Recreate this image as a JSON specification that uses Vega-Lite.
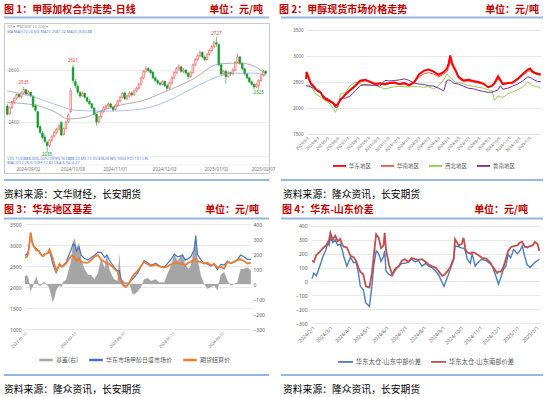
{
"$schema": "https://vega.github.io/schema/vega-lite/v6.json",
"padding": {"left": 3, "top": 0, "right": 0, "bottom": 0},
"background": "white",
"spacing": 0,
"resolve": {"scale": {"color": "independent", "fill": "independent", "stroke": "independent"}, "legend": {"color": "independent", "fill": "independent", "stroke": "independent"}},
"config": {
  "view": {"stroke": null},
  "font": "Noto Sans CJK SC",
  "axis": {"labelFont": "Noto Sans", "labelColor": "#595959", "domain": false, "ticks": false, "gridColor": "#d9d9d9", "gridWidth": 0.6, "labelOverlap": false, "labelFlush": false},
  "legend": {"labelFont": "Noto Sans CJK SC", "labelColor": "#595959", "padding": 0, "layout": {"bottom": {"anchor": "middle"}}}
},
"datasets": {
  "p1": [
{"d":"2024/08/20","o":2462,"h":2470,"l":2425,"c":2430},
{"d":"2024/08/21","o":2432,"h":2460,"l":2428,"c":2455},
{"d":"2024/08/22","o":2455,"h":2482,"l":2450,"c":2478},
{"d":"2024/08/23","o":2476,"h":2495,"l":2470,"c":2490},
{"d":"2024/08/26","o":2492,"h":2512,"l":2485,"c":2505},
{"d":"2024/08/27","o":2506,"h":2510,"l":2490,"c":2498},
{"d":"2024/08/28","o":2497,"h":2518,"l":2492,"c":2512},
{"d":"2024/08/29","o":2512,"h":2535,"l":2505,"c":2525},
{"d":"2024/08/30","o":2524,"h":2528,"l":2502,"c":2508},
{"d":"2024/09/02","o":2508,"h":2522,"l":2500,"c":2515},
{"d":"2024/09/03","o":2514,"h":2516,"l":2495,"c":2502},
{"d":"2024/09/04","o":2500,"h":2503,"l":2455,"c":2460},
{"d":"2024/09/05","o":2462,"h":2470,"l":2438,"c":2445},
{"d":"2024/09/06","o":2440,"h":2444,"l":2375,"c":2380},
{"d":"2024/09/09","o":2382,"h":2390,"l":2352,"c":2360},
{"d":"2024/09/10","o":2358,"h":2365,"l":2335,"c":2340},
{"d":"2024/09/11","o":2342,"h":2350,"l":2318,"c":2325},
{"d":"2024/09/12","o":2322,"h":2328,"l":2285,"c":2310},
{"d":"2024/09/13","o":2310,"h":2335,"l":2302,"c":2330},
{"d":"2024/09/18","o":2330,"h":2350,"l":2322,"c":2345},
{"d":"2024/09/19","o":2346,"h":2365,"l":2340,"c":2360},
{"d":"2024/09/20","o":2360,"h":2378,"l":2352,"c":2372},
{"d":"2024/09/23","o":2373,"h":2392,"l":2366,"c":2385},
{"d":"2024/09/24","o":2398,"h":2404,"l":2345,"c":2350},
{"d":"2024/09/25","o":2352,"h":2380,"l":2348,"c":2375},
{"d":"2024/09/26","o":2376,"h":2405,"l":2370,"c":2400},
{"d":"2024/09/27","o":2402,"h":2432,"l":2396,"c":2428},
{"d":"2024/09/30","o":2440,"h":2530,"l":2436,"c":2520},
{"d":"2024/10/08","o":2610,"h":2621,"l":2550,"c":2560},
{"d":"2024/10/09","o":2556,"h":2565,"l":2530,"c":2540},
{"d":"2024/10/10","o":2538,"h":2545,"l":2508,"c":2515},
{"d":"2024/10/11","o":2514,"h":2520,"l":2492,"c":2500},
{"d":"2024/10/14","o":2500,"h":2518,"l":2496,"c":2510},
{"d":"2024/10/15","o":2510,"h":2514,"l":2490,"c":2495},
{"d":"2024/10/16","o":2494,"h":2498,"l":2475,"c":2480},
{"d":"2024/10/17","o":2480,"h":2488,"l":2465,"c":2470},
{"d":"2024/10/18","o":2470,"h":2474,"l":2450,"c":2455},
{"d":"2024/10/21","o":2454,"h":2458,"l":2425,"c":2430},
{"d":"2024/10/22","o":2430,"h":2434,"l":2385,"c":2400},
{"d":"2024/10/23","o":2400,"h":2425,"l":2395,"c":2420},
{"d":"2024/10/24","o":2420,"h":2445,"l":2414,"c":2440},
{"d":"2024/10/25","o":2440,"h":2460,"l":2435,"c":2455},
{"d":"2024/10/28","o":2455,"h":2468,"l":2448,"c":2462},
{"d":"2024/10/29","o":2462,"h":2476,"l":2455,"c":2470},
{"d":"2024/10/30","o":2470,"h":2472,"l":2452,"c":2458},
{"d":"2024/10/31","o":2458,"h":2462,"l":2440,"c":2448},
{"d":"2024/11/01","o":2448,"h":2470,"l":2444,"c":2465},
{"d":"2024/11/04","o":2465,"h":2486,"l":2460,"c":2480},
{"d":"2024/11/05","o":2480,"h":2500,"l":2475,"c":2495},
{"d":"2024/11/06","o":2495,"h":2516,"l":2490,"c":2510},
{"d":"2024/11/07","o":2512,"h":2518,"l":2485,"c":2490},
{"d":"2024/11/08","o":2490,"h":2506,"l":2484,"c":2500},
{"d":"2024/11/11","o":2500,"h":2518,"l":2495,"c":2512},
{"d":"2024/11/12","o":2512,"h":2516,"l":2498,"c":2505},
{"d":"2024/11/13","o":2505,"h":2525,"l":2500,"c":2520},
{"d":"2024/11/14","o":2520,"h":2536,"l":2514,"c":2530},
{"d":"2024/11/15","o":2530,"h":2552,"l":2525,"c":2545},
{"d":"2024/11/18","o":2546,"h":2576,"l":2540,"c":2570},
{"d":"2024/11/19","o":2570,"h":2600,"l":2564,"c":2595},
{"d":"2024/11/20","o":2595,"h":2615,"l":2588,"c":2605},
{"d":"2024/11/21","o":2606,"h":2612,"l":2592,"c":2598},
{"d":"2024/11/22","o":2598,"h":2604,"l":2584,"c":2590},
{"d":"2024/11/25","o":2592,"h":2596,"l":2565,"c":2570},
{"d":"2024/11/26","o":2570,"h":2575,"l":2555,"c":2560},
{"d":"2024/11/27","o":2560,"h":2565,"l":2544,"c":2550},
{"d":"2024/11/28","o":2550,"h":2556,"l":2538,"c":2545},
{"d":"2024/11/29","o":2545,"h":2562,"l":2540,"c":2555},
{"d":"2024/12/02","o":2556,"h":2560,"l":2535,"c":2540},
{"d":"2024/12/03","o":2540,"h":2546,"l":2518,"c":2530},
{"d":"2024/12/04","o":2530,"h":2556,"l":2526,"c":2550},
{"d":"2024/12/05","o":2550,"h":2575,"l":2545,"c":2570},
{"d":"2024/12/06","o":2570,"h":2596,"l":2565,"c":2590},
{"d":"2024/12/09","o":2590,"h":2612,"l":2585,"c":2605},
{"d":"2024/12/10","o":2605,"h":2622,"l":2598,"c":2612},
{"d":"2024/12/11","o":2612,"h":2616,"l":2590,"c":2595},
{"d":"2024/12/12","o":2595,"h":2608,"l":2588,"c":2600},
{"d":"2024/12/13","o":2600,"h":2604,"l":2582,"c":2588},
{"d":"2024/12/16","o":2588,"h":2592,"l":2565,"c":2575},
{"d":"2024/12/17","o":2575,"h":2596,"l":2570,"c":2590},
{"d":"2024/12/18","o":2590,"h":2625,"l":2586,"c":2620},
{"d":"2024/12/19","o":2620,"h":2646,"l":2615,"c":2640},
{"d":"2024/12/20","o":2640,"h":2660,"l":2634,"c":2655},
{"d":"2024/12/23","o":2655,"h":2675,"l":2650,"c":2668},
{"d":"2024/12/24","o":2668,"h":2672,"l":2644,"c":2650},
{"d":"2024/12/25","o":2650,"h":2656,"l":2634,"c":2640},
{"d":"2024/12/26","o":2640,"h":2665,"l":2636,"c":2660},
{"d":"2024/12/27","o":2660,"h":2680,"l":2655,"c":2675},
{"d":"2024/12/30","o":2675,"h":2696,"l":2670,"c":2690},
{"d":"2024/12/31","o":2690,"h":2712,"l":2684,"c":2705},
{"d":"2025/01/02","o":2705,"h":2727,"l":2690,"c":2700},
{"d":"2025/01/03","o":2698,"h":2702,"l":2615,"c":2620},
{"d":"2025/01/06","o":2620,"h":2626,"l":2578,"c":2585},
{"d":"2025/01/07","o":2585,"h":2602,"l":2580,"c":2595},
{"d":"2025/01/08","o":2595,"h":2600,"l":2548,"c":2575},
{"d":"2025/01/09","o":2575,"h":2596,"l":2570,"c":2590},
{"d":"2025/01/10","o":2590,"h":2594,"l":2578,"c":2585},
{"d":"2025/01/13","o":2585,"h":2606,"l":2580,"c":2600},
{"d":"2025/01/14","o":2600,"h":2636,"l":2595,"c":2630},
{"d":"2025/01/15","o":2630,"h":2665,"l":2625,"c":2650},
{"d":"2025/01/16","o":2650,"h":2654,"l":2620,"c":2625},
{"d":"2025/01/17","o":2625,"h":2630,"l":2600,"c":2605},
{"d":"2025/01/20","o":2605,"h":2610,"l":2580,"c":2585},
{"d":"2025/01/21","o":2585,"h":2590,"l":2565,"c":2570},
{"d":"2025/01/22","o":2570,"h":2575,"l":2550,"c":2555},
{"d":"2025/01/23","o":2555,"h":2560,"l":2540,"c":2545},
{"d":"2025/01/24","o":2545,"h":2550,"l":2528,"c":2535},
{"d":"2025/01/27","o":2535,"h":2552,"l":2530,"c":2545},
{"d":"2025/02/05","o":2540,"h":2565,"l":2525,"c":2560},
{"d":"2025/02/06","o":2560,"h":2585,"l":2555,"c":2580},
{"d":"2025/02/07","o":2580,"h":2600,"l":2575,"c":2595},
{"d":"2025/02/10","o":2595,"h":2598,"l":2580,"c":2588}
  ],
  "p1g": [
{"d":"2024/08/20","v":2475},{"d":"2024/09/05","v":2465},{"d":"2024/09/19","v":2440},{"d":"2024/09/27","v":2412},
{"d":"2024/10/16","v":2420},{"d":"2024/10/23","v":2440},{"d":"2024/11/05","v":2465},{"d":"2024/11/18","v":2481},
{"d":"2024/12/03","v":2520},{"d":"2024/12/18","v":2565},{"d":"2025/01/03","v":2623},{"d":"2025/01/16","v":2627},
{"d":"2025/01/24","v":2615},{"d":"2025/02/10","v":2585}
  ],
  "p1b": [
{"d":"2024/08/20","v":2520},{"d":"2024/09/03","v":2500},{"d":"2024/09/24","v":2460},{"d":"2024/10/09","v":2445},
{"d":"2024/10/29","v":2442},{"d":"2024/11/18","v":2450},{"d":"2024/12/03","v":2480},{"d":"2024/12/18","v":2530},
{"d":"2024/12/31","v":2569},{"d":"2025/01/13","v":2588},{"d":"2025/01/24","v":2588},{"d":"2025/02/10","v":2580}
  ],
  "p1lab": [
{"d":"2024/08/29","p":2535,"t":"2535","k":"h"},
{"d":"2024/10/08","p":2621,"t":"2621","k":"h"},
{"d":"2025/01/02","p":2727,"t":"2727","k":"h"},
{"d":"2024/09/12","p":2285,"t":"2285","k":"l"},
{"d":"2025/02/05","p":2525,"t":"2525","k":"l"}
  ],
  "p2": [
{"d":"2023-03-01","华东地区":2560,"华南地区":2700,"西北地区":2430,"鲁南地区":2430},
{"d":"2023-03-03","华东地区":2690,"华南地区":2640,"西北地区":2440,"鲁南地区":2425},
{"d":"2023-03-08","华东地区":2600,"华南地区":2560,"西北地区":2440,"鲁南地区":2420},
{"d":"2023-03-16","华东地区":2470,"华南地区":2450,"西北地区":2420,"鲁南地区":2400},
{"d":"2023-03-24","华东地区":2420,"华南地区":2400,"西北地区":2330,"鲁南地区":2380},
{"d":"2023-03-31","华东地区":2360,"华南地区":2340,"西北地区":2270,"鲁南地区":2350},
{"d":"2023-04-15","华东地区":2300,"华南地区":2280,"西北地区":2205,"鲁南地区":2280},
{"d":"2023-04-22","华东地区":2210,"华南地区":2200,"西北地区":2170,"鲁南地区":2240},
{"d":"2023-04-30","华东地区":2170,"华南地区":2150,"西北地区":2140,"鲁南地区":2200},
{"d":"2023-05-14","华东地区":2128,"华南地区":2110,"西北地区":2077,"鲁南地区":2150},
{"d":"2023-05-22","华东地区":2100,"华南地区":2080,"西北地区":1990,"鲁南地区":2080},
{"d":"2023-05-29","华东地区":2045,"华南地区":2030,"西北地区":1917,"鲁南地区":2010},
{"d":"2023-06-05","华东地区":2070,"华南地区":2060,"西北地区":2013,"鲁南地区":2020},
{"d":"2023-06-13","华东地区":2154,"华南地区":2140,"西北地区":2269,"鲁南地区":2190},
{"d":"2023-06-20","华东地区":2200,"华南地区":2190,"西北地区":2280,"鲁南地区":2190},
{"d":"2023-06-28","华东地区":2260,"华南地区":2250,"西北地区":2300,"鲁南地区":2190},
{"d":"2023-07-13","华东地区":2346,"华南地区":2330,"西北地区":2430,"鲁南地区":2230},
{"d":"2023-07-28","华东地区":2430,"华南地区":2410,"西北地区":2494,"鲁南地区":2330},
{"d":"2023-08-12","华东地区":2526,"华南地区":2500,"西北地区":2470,"鲁南地区":2430},
{"d":"2023-08-27","华东地区":2545,"华南地区":2520,"西北地区":2430,"鲁南地区":2450},
{"d":"2023-09-11","华东地区":2506,"华南地区":2490,"西北地区":2440,"鲁南地区":2440},
{"d":"2023-09-26","华东地区":2462,"华南地区":2450,"西北地区":2430,"鲁南地区":2440},
{"d":"2023-10-11","华东地区":2475,"华南地区":2460,"西北地区":2400,"鲁南地区":2420},
{"d":"2023-10-26","华东地区":2460,"华南地区":2440,"西北地区":2370,"鲁南地区":2530},
{"d":"2023-11-10","华东地区":2480,"华南地区":2470,"西北地区":2390,"鲁南地区":2520},
{"d":"2023-11-25","华东地区":2490,"华南地区":2470,"西北地区":2410,"鲁南地区":2530},
{"d":"2023-12-09","华东地区":2460,"华南地区":2450,"西北地区":2420,"鲁南地区":2540},
{"d":"2023-12-24","华东地区":2480,"华南地区":2460,"西北地区":2410,"鲁南地区":2560},
{"d":"2024-01-08","华东地区":2440,"华南地区":2430,"西北地区":2410,"鲁南地区":2530},
{"d":"2024-01-23","华东地区":2500,"华南地区":2480,"西北地区":2410,"鲁南地区":2480},
{"d":"2024-02-07","华东地区":2650,"华南地区":2600,"西北地区":2410,"鲁南地区":2460},
{"d":"2024-02-22","华东地区":2720,"华南地区":2660,"西北地区":2400,"鲁南地区":2450},
{"d":"2024-03-07","华东地区":2740,"华南地区":2680,"西北地区":2410,"鲁南地区":2430},
{"d":"2024-03-22","华东地区":2700,"华南地区":2650,"西北地区":2360,"鲁南地区":2420},
{"d":"2024-04-06","华东地区":2640,"华南地区":2600,"西北地区":2440,"鲁南地区":2380},
{"d":"2024-04-21","华东地区":2690,"华南地区":2650,"西北地区":2540,"鲁南地区":2330},
{"d":"2024-05-01","华东地区":2760,"华南地区":2700,"西北地区":2660,"鲁南地区":2530},
{"d":"2024-05-06","华东地区":2850,"华南地区":2760,"西北地区":2620,"鲁南地区":2540},
{"d":"2024-05-11","华东地区":3010,"华南地区":2900,"西北地区":2580,"鲁南地区":2530},
{"d":"2024-05-16","华东地区":2880,"华南地区":2820,"西北地区":2560,"鲁南地区":2510},
{"d":"2024-05-21","华东地区":2800,"华南地区":2760,"西北地区":2530,"鲁南地区":2480},
{"d":"2024-05-28","华东地区":2720,"华南地区":2680,"西北地区":2500,"鲁南地区":2470},
{"d":"2024-06-05","华东地区":2600,"华南地区":2570,"西北地区":2490,"鲁南地区":2460},
{"d":"2024-06-20","华东地区":2530,"华南地区":2510,"西北地区":2470,"鲁南地区":2420},
{"d":"2024-07-05","华东地区":2545,"华南地区":2520,"西北地区":2430,"鲁南地区":2380},
{"d":"2024-07-20","华东地区":2520,"华南地区":2500,"西北地区":2420,"鲁南地区":2370},
{"d":"2024-08-04","华东地区":2500,"华南地区":2480,"西北地区":2400,"鲁南地区":2340},
{"d":"2024-08-19","华东地区":2470,"华南地区":2460,"西北地区":2380,"鲁南地区":2320},
{"d":"2024-09-03","华东地区":2400,"华南地区":2390,"西北地区":2350,"鲁南地区":2300},
{"d":"2024-09-15","华东地区":2430,"华南地区":2420,"西北地区":2330,"鲁南地区":2305},
{"d":"2024-09-22","华东地区":2480,"华南地区":2460,"西北地区":2150,"鲁南地区":2320},
{"d":"2024-10-03","华东地区":2610,"华南地区":2560,"西北地区":2230,"鲁南地区":2350},
{"d":"2024-10-10","华东地区":2540,"华南地区":2510,"西北地区":2220,"鲁南地区":2430},
{"d":"2024-10-17","华东地区":2460,"华南地区":2450,"西北地区":2200,"鲁南地区":2360},
{"d":"2024-11-01","华东地区":2480,"华南地区":2470,"西北地区":2270,"鲁南地区":2380},
{"d":"2024-11-16","华东地区":2490,"华南地区":2480,"西北地区":2310,"鲁南地区":2420},
{"d":"2024-12-01","华东地区":2560,"华南地区":2540,"西北地区":2350,"鲁南地区":2460},
{"d":"2024-12-16","华东地区":2650,"华南地区":2620,"西北地区":2400,"鲁南地区":2520},
{"d":"2025-01-01","华东地区":2740,"华南地区":2700,"西北地区":2500,"鲁南地区":2600},
{"d":"2025-01-08","华东地区":2760,"华南地区":2720,"西北地区":2470,"鲁南地区":2590},
{"d":"2025-01-15","华东地区":2700,"华南地区":2680,"西北地区":2430,"鲁南地区":2560},
{"d":"2025-01-30","华东地区":2660,"华南地区":2640,"西北地区":2410,"鲁南地区":2510},
{"d":"2025-02-09","华东地区":2650,"华南地区":2630,"西北地区":2380,"鲁南地区":2510}
  ],
  "p3": [
{"d":"2022-01-11","华东市场甲醇日度市场价":2750,"期货结算价":2700,"basis":50},
{"d":"2022-01-20","华东市场甲醇日度市场价":2780,"期货结算价":2720,"basis":60},
{"d":"2022-01-27","华东市场甲醇日度市场价":2830,"期货结算价":2790,"basis":40},
{"d":"2022-02-08","华东市场甲醇日度市场价":3250,"期货结算价":3300,"basis":-50},
{"d":"2022-02-14","华东市场甲醇日度市场价":3100,"期货结算价":3120,"basis":-20},
{"d":"2022-02-18","华东市场甲醇日度市场价":3020,"期货结算价":3040,"basis":-20},
{"d":"2022-02-25","华东市场甲醇日度市场价":2960,"期货结算价":2950,"basis":10},
{"d":"2022-03-08","华东市场甲醇日度市场价":2920,"期货结算价":2870,"basis":50},
{"d":"2022-03-21","华东市场甲醇日度市场价":2850,"期货结算价":2860,"basis":-10},
{"d":"2022-04-01","华东市场甲醇日度市场价":2760,"期货结算价":2770,"basis":-10},
{"d":"2022-04-10","华东市场甲醇日度市场价":2740,"期货结算价":2730,"basis":10},
{"d":"2022-04-18","华东市场甲醇日度市场价":2790,"期货结算价":2780,"basis":10},
{"d":"2022-05-04","华东市场甲醇日度市场价":2800,"期货结算价":2810,"basis":-10},
{"d":"2022-05-12","华东市场甲醇日度市场价":2860,"期货结算价":2890,"basis":-30},
{"d":"2022-05-20","华东市场甲醇日度市场价":2720,"期货结算价":2790,"basis":-70},
{"d":"2022-05-28","华东市场甲醇日度市场价":2560,"期货结算价":2680,"basis":-120},
{"d":"2022-06-05","华东市场甲醇日度市场价":2450,"期货结算价":2540,"basis":-90},
{"d":"2022-06-14","华东市场甲醇日度市场价":2340,"期货结算价":2380,"basis":-40},
{"d":"2022-06-23","华东市场甲醇日度市场价":2450,"期货结算价":2470,"basis":-20},
{"d":"2022-07-01","华东市场甲醇日度市场价":2540,"期货结算价":2550,"basis":-10},
{"d":"2022-07-10","华东市场甲醇日度市场价":2480,"期货结算价":2500,"basis":-20},
{"d":"2022-07-17","华东市场甲醇日度市场价":2500,"期货结算价":2490,"basis":10},
{"d":"2022-08-03","华东市场甲醇日度市场价":2600,"期货结算价":2570,"basis":30},
{"d":"2022-08-19","华东市场甲醇日度市场价":2800,"期货结算价":2690,"basis":110},
{"d":"2022-08-28","华东市场甲醇日度市场价":2900,"期货结算价":2740,"basis":160},
{"d":"2022-09-05","华东市场甲醇日度市场价":3020,"期货结算价":2740,"basis":280},
{"d":"2022-09-14","华东市场甲醇日度市场价":3000,"期货结算价":2700,"basis":300},
{"d":"2022-09-22","华东市场甲醇日度市场价":2860,"期货结算价":2620,"basis":240},
{"d":"2022-10-05","华东市场甲醇日度市场价":2950,"期货结算价":2680,"basis":270},
{"d":"2022-10-16","华东市场甲醇日度市场价":2760,"期货结算价":2600,"basis":160},
{"d":"2022-11-01","华东市场甲醇日度市场价":2680,"期货结算价":2580,"basis":100},
{"d":"2022-11-18","华东市场甲醇日度市场价":2640,"期货结算价":2580,"basis":60},
{"d":"2022-12-04","华东市场甲醇日度市场价":2700,"期货结算价":2640,"basis":60},
{"d":"2022-12-20","华东市场甲醇日度市场价":2750,"期货结算价":2720,"basis":30},
{"d":"2023-01-06","华东市场甲醇日度市场价":2830,"期货结算价":2760,"basis":70},
{"d":"2023-01-23","华东市场甲醇日度市场价":2820,"期货结算价":2650,"basis":170},
{"d":"2023-02-09","华东市场甲醇日度市场价":2700,"期货结算价":2600,"basis":100},
{"d":"2023-02-20","华东市场甲醇日度市场价":2760,"期货结算价":2560,"basis":200},
{"d":"2023-03-03","华东市场甲醇日度市场价":2650,"期货结算价":2550,"basis":100},
{"d":"2023-03-15","华东市场甲醇日度市场价":2560,"期货结算价":2500,"basis":60},
{"d":"2023-03-28","华东市场甲醇日度市场价":2470,"期货结算价":2440,"basis":30},
{"d":"2023-04-14","华东市场甲醇日度市场价":2380,"期货结算价":2360,"basis":20},
{"d":"2023-04-22","华东市场甲醇日度市场价":2390,"期货结算价":2200,"basis":190},
{"d":"2023-04-30","华东市场甲醇日度市场价":2200,"期货结算价":2160,"basis":40},
{"d":"2023-05-11","华东市场甲醇日度市场价":2060,"期货结算价":2040,"basis":20},
{"d":"2023-05-24","华东市场甲醇日度市场价":2010,"期货结算价":2000,"basis":10},
{"d":"2023-06-10","华东市场甲醇日度市场价":2100,"期货结算价":2090,"basis":10},
{"d":"2023-06-25","华东市场甲醇日度市场价":2180,"期货结算价":2240,"basis":-60},
{"d":"2023-07-04","华东市场甲醇日度市场价":2230,"期货结算价":2300,"basis":-70},
{"d":"2023-07-21","华东市场甲醇日度市场价":2330,"期货结算价":2380,"basis":-50},
{"d":"2023-08-07","华东市场甲醇日度市场价":2480,"期货结算价":2500,"basis":-20},
{"d":"2023-08-23","华东市场甲醇日度市场价":2630,"期货结算价":2600,"basis":30},
{"d":"2023-09-09","华东市场甲醇日度市场价":2580,"期货结算价":2540,"basis":40},
{"d":"2023-09-25","华东市场甲醇日度市场价":2520,"期货结算价":2500,"basis":20},
{"d":"2023-10-20","华东市场甲醇日度市场价":2560,"期货结算价":2530,"basis":30},
{"d":"2023-11-06","华东市场甲醇日度市场价":2500,"期货结算价":2490,"basis":10},
{"d":"2023-12-01","华东市场甲醇日度市场价":2470,"期货结算价":2460,"basis":10},
{"d":"2023-12-17","华东市场甲醇日度市场价":2560,"期货结算价":2490,"basis":70},
{"d":"2024-01-03","华东市场甲醇日度市场价":2660,"期货结算价":2540,"basis":120},
{"d":"2024-01-19","华东市场甲醇日度市场价":2780,"期货结算价":2580,"basis":200},
{"d":"2024-02-04","华东市场甲醇日度市场价":2720,"期货结算价":2570,"basis":150},
{"d":"2024-02-20","华东市场甲醇日度市场价":2740,"期货结算价":2550,"basis":190},
{"d":"2024-02-29","华东市场甲醇日度市场价":2760,"期货结算价":2560,"basis":200},
{"d":"2024-03-12","华东市场甲醇日度市场价":2640,"期货结算价":2510,"basis":130},
{"d":"2024-03-29","华东市场甲醇日度市场价":2680,"期货结算价":2580,"basis":100},
{"d":"2024-04-09","华东市场甲醇日度市场价":2720,"期货结算价":2600,"basis":120},
{"d":"2024-04-26","华东市场甲醇日度市场价":2880,"期货结算价":2640,"basis":240},
{"d":"2024-05-04","华东市场甲醇日度市场价":3220,"期货结算价":2680,"basis":330},
{"d":"2024-05-12","华东市场甲醇日度市场价":2780,"期货结算价":2610,"basis":170},
{"d":"2024-05-28","华东市场甲醇日度市场价":2660,"期货结算价":2600,"basis":60},
{"d":"2024-06-14","华东市场甲醇日度市场价":2560,"期货结算价":2560,"basis":0},
{"d":"2024-07-01","华东市场甲醇日度市场价":2550,"期货结算价":2580,"basis":-30},
{"d":"2024-07-17","华东市场甲醇日度市场价":2500,"期货结算价":2520,"basis":-20},
{"d":"2024-08-03","华东市场甲醇日度市场价":2540,"期货结算价":2550,"basis":-10},
{"d":"2024-08-19","华东市场甲醇日度市场价":2420,"期货结算价":2460,"basis":-40},
{"d":"2024-09-05","华东市场甲醇日度市场价":2540,"期货结算价":2480,"basis":60},
{"d":"2024-09-21","华东市场甲醇日度市场价":2520,"期货结算价":2440,"basis":80},
{"d":"2024-10-08","华东市场甲醇日度市场价":2620,"期货结算价":2600,"basis":20},
{"d":"2024-10-24","华东市场甲醇日度市场价":2560,"期货结算价":2570,"basis":-10},
{"d":"2024-11-10","华东市场甲醇日度市场价":2600,"期货结算价":2600,"basis":0},
{"d":"2024-11-26","华东市场甲醇日度市场价":2650,"期货结算价":2640,"basis":10},
{"d":"2024-12-12","华东市场甲醇日度市场价":2760,"期货结算价":2660,"basis":100},
{"d":"2024-12-28","华东市场甲醇日度市场价":2720,"期货结算价":2620,"basis":100},
{"d":"2025-01-14","华东市场甲醇日度市场价":2660,"期货结算价":2560,"basis":110},
{"d":"2025-01-31","华东市场甲醇日度市场价":2660,"期货结算价":2580,"basis":90}
  ],
  "p4": [
{"d":"2024-02-01","华东太仓-山东中部价差":20,"华东太仓-山东南部价差":150},
{"d":"2024-02-04","华东太仓-山东中部价差":60,"华东太仓-山东南部价差":140},
{"d":"2024-02-08","华东太仓-山东中部价差":40,"华东太仓-山东南部价差":190},
{"d":"2024-02-13","华东太仓-山东中部价差":100,"华东太仓-山东南部价差":210},
{"d":"2024-02-19","华东太仓-山东中部价差":180,"华东太仓-山东南部价差":240},
{"d":"2024-02-24","华东太仓-山东中部价差":230,"华东太仓-山东南部价差":260},
{"d":"2024-02-27","华东太仓-山东中部价差":280,"华东太仓-山东南部价差":280},
{"d":"2024-02-29","华东太仓-山东中部价差":260,"华东太仓-山东南部价差":300},
{"d":"2024-03-02","华东太仓-山东中部价差":315,"华东太仓-山东南部价差":350},
{"d":"2024-03-06","华东太仓-山东中部价差":280,"华东太仓-山东南部价差":300},
{"d":"2024-03-10","华东太仓-山东中部价差":300,"华东太仓-山东南部价差":330},
{"d":"2024-03-14","华东太仓-山东中部价差":260,"华东太仓-山东南部价差":290},
{"d":"2024-03-18","华东太仓-山东中部价差":270,"华东太仓-山东南部价差":305},
{"d":"2024-03-22","华东太仓-山东中部价差":220,"华东太仓-山东南部价差":260},
{"d":"2024-03-24","华东太仓-山东中部价差":180,"华东太仓-山东南部价差":250},
{"d":"2024-03-29","华东太仓-山东中部价差":110,"华东太仓-山东南部价差":245},
{"d":"2024-04-04","华东太仓-山东中部价差":175,"华东太仓-山东南部价差":185},
{"d":"2024-04-09","华东太仓-山东中部价差":135,"华东太仓-山东南部价差":175},
{"d":"2024-04-13","华东太仓-山东中部价差":140,"华东太仓-山东南部价差":150},
{"d":"2024-04-17","华东太仓-山东中部价差":60,"华东太仓-山东南部价差":100},
{"d":"2024-04-20","华东太仓-山东中部价差":-35,"华东太仓-山东南部价差":70},
{"d":"2024-04-25","华东太仓-山东中部价差":-60,"华东太仓-山东南部价差":50},
{"d":"2024-04-29","华东太仓-山东中部价差":-155,"华东太仓-山东南部价差":-35},
{"d":"2024-05-05","华东太仓-山东中部价差":-180,"华东太仓-山东南部价差":-45},
{"d":"2024-05-09","华东太仓-山东中部价差":-35,"华东太仓-山东南部价差":60},
{"d":"2024-05-12","华东太仓-山东中部价差":110,"华东太仓-山东南部价差":185},
{"d":"2024-05-16","华东太仓-山东中部价差":220,"华东太仓-山东南部价差":340},
{"d":"2024-05-20","华东太仓-山东中部价差":200,"华东太仓-山东南部价差":315},
{"d":"2024-05-24","华东太仓-山东中部价差":145,"华东太仓-山东南部价差":240},
{"d":"2024-05-28","华东太仓-山东中部价差":180,"华东太仓-山东南部价差":260},
{"d":"2024-05-30","华东太仓-山东中部价差":220,"华东太仓-山东南部价差":350},
{"d":"2024-06-01","华东太仓-山东中部价差":75,"华东太仓-山东南部价差":230},
{"d":"2024-06-06","华东太仓-山东中部价差":50,"华东太仓-山东南部价差":120},
{"d":"2024-06-11","华东太仓-山东中部价差":40,"华东太仓-山东南部价差":50},
{"d":"2024-06-16","华东太仓-山东中部价差":80,"华东太仓-山东南部价差":90},
{"d":"2024-06-22","华东太仓-山东中部价差":110,"华东太仓-山东南部价差":110},
{"d":"2024-06-27","华东太仓-山东中部价差":130,"华东太仓-山东南部价差":150},
{"d":"2024-07-02","华东太仓-山东中部价差":130,"华东太仓-山东南部价差":160},
{"d":"2024-07-08","华东太仓-山东中部价差":140,"华东太仓-山东南部价差":140},
{"d":"2024-07-13","华东太仓-山东中部价差":160,"华东太仓-山东南部价差":170},
{"d":"2024-07-19","华东太仓-山东中部价差":140,"华东太仓-山东南部价差":160},
{"d":"2024-07-24","华东太仓-山东中部价差":150,"华东太仓-山东南部价差":155},
{"d":"2024-07-30","华东太仓-山东中部价差":110,"华东太仓-山东南部价差":160},
{"d":"2024-08-05","华东太仓-山东中部价差":130,"华东太仓-山东南部价差":140},
{"d":"2024-08-10","华东太仓-山东中部价差":110,"华东太仓-山东南部价差":120},
{"d":"2024-08-15","华东太仓-山东中部价差":100,"华东太仓-山东南部价差":110},
{"d":"2024-08-21","华东太仓-山东中部价差":75,"华东太仓-山东南部价差":100},
{"d":"2024-08-26","华东太仓-山东中部价差":50,"华东太仓-山东南部价差":75},
{"d":"2024-09-01","华东太仓-山东中部价差":-10,"华东太仓-山东南部价差":40},
{"d":"2024-09-04","华东太仓-山东中部价差":-35,"华东太仓-山东南部价差":45},
{"d":"2024-09-09","华东太仓-山东中部价差":25,"华东太仓-山东南部价差":70},
{"d":"2024-09-14","华东太仓-山东中部价差":85,"华东太仓-山东南部价差":100},
{"d":"2024-09-20","华东太仓-山东中部价差":160,"华东太仓-山东南部价差":170},
{"d":"2024-09-22","华东太仓-山东中部价差":255,"华东太仓-山东南部价差":305},
{"d":"2024-09-28","华东太仓-山东中部价差":250,"华东太仓-山东南部价差":260},
{"d":"2024-10-03","华东太仓-山东中部价差":240,"华东太仓-山东南部价差":270},
{"d":"2024-10-06","华东太仓-山东中部价差":240,"华东太仓-山东南部价差":315},
{"d":"2024-10-09","华东太仓-山东中部价差":220,"华东太仓-山东南部价差":230},
{"d":"2024-10-12","华东太仓-山东中部价差":160,"华东太仓-山东南部价差":210},
{"d":"2024-10-17","华东太仓-山东中部价差":130,"华东太仓-山东南部价差":200},
{"d":"2024-10-20","华东太仓-山东中部价差":200,"华东太仓-山东南部价差":210},
{"d":"2024-10-25","华东太仓-山东中部价差":110,"华东太仓-山东南部价差":205},
{"d":"2024-10-30","华东太仓-山东中部价差":140,"华东太仓-山东南部价差":190},
{"d":"2024-11-05","华东太仓-山东中部价差":160,"华东太仓-山东南部价差":170},
{"d":"2024-11-12","华东太仓-山东中部价差":150,"华东太仓-山东南部价差":165},
{"d":"2024-11-18","华东太仓-山东中部价差":130,"华东太仓-山东南部价差":140},
{"d":"2024-11-22","华东太仓-山东中部价差":110,"华东太仓-山东南部价差":110},
{"d":"2024-11-26","华东太仓-山东中部价差":60,"华东太仓-山东南部价差":85},
{"d":"2024-11-30","华东太仓-山东中部价差":10,"华东太仓-山东南部价差":60},
{"d":"2024-12-02","华东太仓-山东中部价差":-20,"华东太仓-山东南部价差":70},
{"d":"2024-12-06","华东太仓-山东中部价差":30,"华东太仓-山东南部价差":70},
{"d":"2024-12-10","华东太仓-山东中部价差":85,"华东太仓-山东南部价差":100},
{"d":"2024-12-14","华东太仓-山东中部价差":110,"华东太仓-山东南部价差":160},
{"d":"2024-12-18","华东太仓-山东中部价差":195,"华东太仓-山东南部价差":220},
{"d":"2024-12-22","华东太仓-山东中部价差":170,"华东太仓-山东南部价差":245},
{"d":"2024-12-27","华东太仓-山东中部价差":230,"华东太仓-山东南部价差":255},
{"d":"2025-01-02","华东太仓-山东中部价差":200,"华东太仓-山东南部价差":260},
{"d":"2025-01-06","华东太仓-山东中部价差":220,"华东太仓-山东南部价差":280},
{"d":"2025-01-10","华东太仓-山东中部价差":255,"华东太仓-山东南部价差":285},
{"d":"2025-01-14","华东太仓-山东中部价差":180,"华东太仓-山东南部价差":250},
{"d":"2025-01-18","华东太仓-山东中部价差":120,"华东太仓-山东南部价差":245},
{"d":"2025-01-23","华东太仓-山东中部价差":100,"华东太仓-山东南部价差":255},
{"d":"2025-01-27","华东太仓-山东中部价差":120,"华东太仓-山东南部价差":260},
{"d":"2025-01-31","华东太仓-山东中部价差":140,"华东太仓-山东南部价差":285},
{"d":"2025-02-04","华东太仓-山东中部价差":150,"华东太仓-山东南部价差":270},
{"d":"2025-02-07","华东太仓-山东中部价差":160,"华东太仓-山东南部价差":220}
  ]
},
"vconcat": [
{
  "width": 547, "height": 22,
  "data": {"values": [{}]},
  "layer": [
    {"mark": {"type": "rule", "color": "#95b8e0", "strokeWidth": 2},
     "encoding": {"x": {"datum": 3, "type": "quantitative", "scale": {"domain": [3, 550], "nice": false, "zero": false}, "axis": null},
                  "x2": {"datum": 268},
                  "y": {"datum": 17.5, "type": "quantitative", "scale": {"domain": [0, 22], "nice": false, "zero": false, "reverse": true}, "axis": null}}},
    {"mark": {"type": "rule", "color": "#95b8e0", "strokeWidth": 2},
     "encoding": {"x": {"datum": 280, "type": "quantitative"}, "x2": {"datum": 542}, "y": {"datum": 17.5, "type": "quantitative"}}},
    {"mark": {"type": "text", "align": "left", "baseline": "middle", "font": "Noto Sans CJK SC", "fontSize": 10, "fontWeight": "bold", "color": "#c00000"},
     "encoding": {"x": {"datum": 3, "type": "quantitative"}, "y": {"datum": 10, "type": "quantitative"}, "text": {"value": "图 1：甲醇加权合约走势-日线"}}},
    {"mark": {"type": "text", "align": "right", "baseline": "middle", "font": "Noto Sans CJK SC", "fontSize": 10, "fontWeight": "bold", "color": "#c00000"},
     "encoding": {"x": {"datum": 262, "type": "quantitative"}, "y": {"datum": 10, "type": "quantitative"}, "text": {"value": "单位：元/吨"}}},
    {"mark": {"type": "text", "align": "left", "baseline": "middle", "font": "Noto Sans CJK SC", "fontSize": 10, "fontWeight": "bold", "color": "#c00000"},
     "encoding": {"x": {"datum": 278, "type": "quantitative"}, "y": {"datum": 10, "type": "quantitative"}, "text": {"value": "图 2：甲醇现货市场价格走势"}}},
    {"mark": {"type": "text", "align": "right", "baseline": "middle", "font": "Noto Sans CJK SC", "fontSize": 10, "fontWeight": "bold", "color": "#c00000"},
     "encoding": {"x": {"datum": 538, "type": "quantitative"}, "y": {"datum": 10, "type": "quantitative"}, "text": {"value": "单位：元/吨"}}}
  ]
},
{
  "spacing": 15,
  "resolve": {"scale": {"color": "independent"}, "legend": {"color": "independent"}},
  "hconcat": [
    {
      "width": 265, "height": 150,
      "view": {"stroke": "#c8c8c8", "strokeWidth": 1},
      "layer": [
        {"data": {"name": "p1"},
         "mark": {"type": "rule", "strokeWidth": 0.6},
         "encoding": {
           "x": {"field": "d", "type": "ordinal", "title": null,
                 "scale": {"type": "band", "paddingInner": 0.25, "paddingOuter": 6.375},
                 "axis": {"values": ["2024/09/02", "2024/10/08", "2024/11/01", "2024/12/02", "2025/01/02", "2025/02/07"], "labelAngle": 0, "labelFontSize": 4.5, "labelColor": "#777777", "labelBaseline": "bottom", "labelPadding": -2, "ticks": false, "grid": false, "domain": false}},
           "y": {"field": "l", "type": "quantitative", "title": null,
                 "scale": {"domain": [2204, 2781], "nice": false, "zero": false},
                 "axis": {"values": [2400, 2600], "format": "d", "grid": true, "gridColor": "#e3e3e3", "ticks": true, "tickSize": 0, "tickOpacity": 0, "labelAlign": "left", "labelPadding": -4, "labelFontSize": 4.5, "labelColor": "#777777"}},
           "y2": {"field": "h"},
           "color": {"condition": {"test": "datum.c >= datum.o", "value": "#e8463a"}, "value": "#139a2b"}
         }},
        {"data": {"name": "p1"},
         "mark": {"type": "bar", "strokeWidth": 0.5},
         "encoding": {
           "x": {"field": "d", "type": "ordinal"},
           "y": {"field": "o", "type": "quantitative"},
           "y2": {"field": "c"},
           "fill": {"condition": {"test": "datum.c >= datum.o", "value": "#fbe3e1"}, "value": "#139a2b"},
           "stroke": {"condition": {"test": "datum.c >= datum.o", "value": "#e8463a"}, "value": "#139a2b"}
         }},
        {"data": {"name": "p1g"},
         "mark": {"type": "line", "color": "#8c8c8c", "strokeWidth": 0.7, "interpolate": "monotone"},
         "encoding": {"x": {"field": "d", "type": "ordinal"}, "y": {"field": "v", "type": "quantitative"}}},
        {"data": {"name": "p1b"},
         "mark": {"type": "line", "color": "#86a6ee", "strokeWidth": 0.7, "interpolate": "monotone"},
         "encoding": {"x": {"field": "d", "type": "ordinal"}, "y": {"field": "v", "type": "quantitative"}}},
        {"data": {"name": "p1lab"},
         "transform": [{"filter": {"field": "k", "equal": "h"}}],
         "mark": {"type": "text", "fontSize": 4.5, "color": "#e8463a", "dy": -3.5, "font": "Noto Sans"},
         "encoding": {"x": {"field": "d", "type": "ordinal"}, "y": {"field": "p", "type": "quantitative"}, "text": {"field": "t"}}},
        {"data": {"name": "p1lab"},
         "transform": [{"filter": {"field": "k", "equal": "l"}}],
         "mark": {"type": "text", "fontSize": 4.5, "color": "#139a2b", "dy": 3, "font": "Noto Sans"},
         "encoding": {"x": {"field": "d", "type": "ordinal"}, "y": {"field": "p", "type": "quantitative"}, "text": {"field": "t"}}},
        {"data": {"values": [{"p": 2268}, {"p": 2235}]},
         "mark": {"type": "rule", "color": "#e3e3e3", "strokeWidth": 0.6},
         "encoding": {"y": {"field": "p", "type": "quantitative"}}},
        {"data": {"values": [{}]},
         "mark": {"type": "text", "align": "left", "fontSize": 3.8, "color": "#999999", "font": "Noto Sans CJK SC"},
         "encoding": {"x": {"datum": "2024/08/20", "type": "ordinal"}, "y": {"datum": 2764, "type": "quantitative"}, "text": {"value": "MA ▾  甲醇加权  1D  日线 ▾"}}},
        {"data": {"values": [{}]},
         "mark": {"type": "text", "align": "left", "fontSize": 3.8, "color": "#5b7fd6", "font": "Noto Sans"},
         "encoding": {"x": {"datum": "2024/08/20", "type": "ordinal"}, "y": {"datum": 2746, "type": "quantitative"}, "text": {"value": "MA  MA5(10,20,60)    MA10 2587.24    MA20 2630.88"}}},
        {"data": {"values": [{}]},
         "mark": {"type": "text", "align": "left", "fontSize": 3.8, "color": "#5b7fd6", "font": "Noto Sans"},
         "encoding": {"x": {"datum": "2024/08/20", "type": "ordinal"}, "y": {"datum": 2258, "type": "quantitative"}, "text": {"value": "VOL  1530888.00(0.00%)   OPEN 953888.00        MS 10  DS 83626  WD 9300  POI 131  CRL"}}},
        {"data": {"values": [{}]},
         "mark": {"type": "text", "align": "left", "fontSize": 3.8, "color": "#5b7fd6", "font": "Noto Sans"},
         "encoding": {"x": {"datum": "2024/08/20", "type": "ordinal"}, "y": {"datum": 2241, "type": "quantitative"}, "text": {"value": "MACD(12,26,9)  DIFF:12.82  DEA:6.34  -6.27"}}}
      ]
    },
    {
      "width": 235, "height": 111,
      "data": {"name": "p2"},
      "transform": [{"fold": ["华东地区", "华南地区", "西北地区", "鲁南地区"], "as": ["s", "v"]}],
      "encoding": {
        "x": {"field": "d", "type": "temporal", "title": null,
              "scale": {"domain": [{"year": 2023, "month": 3, "date": 1}, {"year": 2025, "month": 2, "date": 10}]},
              "axis": {"values": [
                {"year": 2023, "month": 3, "date": 3}, {"year": 2023, "month": 4, "date": 3}, {"year": 2023, "month": 5, "date": 3},
                {"year": 2023, "month": 6, "date": 3}, {"year": 2023, "month": 7, "date": 3}, {"year": 2023, "month": 8, "date": 3},
                {"year": 2023, "month": 9, "date": 3}, {"year": 2023, "month": 10, "date": 3}, {"year": 2023, "month": 11, "date": 3},
                {"year": 2023, "month": 12, "date": 3}, {"year": 2024, "month": 1, "date": 3}, {"year": 2024, "month": 2, "date": 3},
                {"year": 2024, "month": 3, "date": 3}, {"year": 2024, "month": 4, "date": 3}, {"year": 2024, "month": 5, "date": 3},
                {"year": 2024, "month": 6, "date": 3}, {"year": 2024, "month": 7, "date": 3}, {"year": 2024, "month": 8, "date": 3},
                {"year": 2024, "month": 9, "date": 3}, {"year": 2024, "month": 10, "date": 3}, {"year": 2024, "month": 11, "date": 3},
                {"year": 2024, "month": 12, "date": 3}, {"year": 2025, "month": 1, "date": 3}],
                "format": "%Y/%-m/%-d", "labelAngle": -45, "labelFontSize": 4, "labelPadding": 2, "grid": false}},
        "y": {"field": "v", "type": "quantitative", "title": null,
              "scale": {"domain": [1500, 3635], "nice": false, "zero": false},
              "axis": {"values": [1500, 2000, 2500, 3000, 3500], "format": "d", "grid": true, "ticks": true, "tickSize": 15, "tickOpacity": 0, "labelPadding": -12, "labelFontSize": 4.5}},
        "color": {"field": "s", "type": "nominal",
                  "scale": {"domain": ["华东地区", "华南地区", "西北地区", "鲁南地区"], "range": ["#ff0000", "#e8584f", "#92d050", "#7030a0"]},
                  "legend": {"orient": "bottom", "direction": "horizontal", "title": null, "symbolType": "stroke", "symbolSize": 170, "symbolStrokeWidth": 1.8, "labelFontSize": 5.5, "offset": 5, "columnPadding": 5, "labelOffset": 2}}
      },
      "layer": [
        {"transform": [{"filter": {"field": "s", "oneOf": ["华南地区", "西北地区", "鲁南地区"]}}],
         "mark": {"type": "line", "strokeWidth": 1}},
        {"transform": [{"filter": {"field": "s", "equal": "华东地区"}}],
         "mark": {"type": "line", "strokeWidth": 2}}
      ]
    }
  ]
},
{
  "width": 547, "height": 48,
  "data": {"values": [{}]},
  "layer": [
    {"mark": {"type": "rule", "color": "#95b8e0", "strokeWidth": 2},
     "encoding": {"x": {"datum": 3, "type": "quantitative", "scale": {"domain": [3, 550], "nice": false, "zero": false}, "axis": null},
                  "x2": {"datum": 268},
                  "y": {"datum": 6, "type": "quantitative", "scale": {"domain": [0, 48], "nice": false, "zero": false, "reverse": true}, "axis": null}}},
    {"mark": {"type": "rule", "color": "#95b8e0", "strokeWidth": 2},
     "encoding": {"x": {"datum": 280, "type": "quantitative"}, "x2": {"datum": 542}, "y": {"datum": 6, "type": "quantitative"}}},
    {"mark": {"type": "rule", "color": "#95b8e0", "strokeWidth": 2},
     "encoding": {"x": {"datum": 3, "type": "quantitative"}, "x2": {"datum": 268}, "y": {"datum": 44.5, "type": "quantitative"}}},
    {"mark": {"type": "rule", "color": "#95b8e0", "strokeWidth": 2},
     "encoding": {"x": {"datum": 280, "type": "quantitative"}, "x2": {"datum": 542}, "y": {"datum": 44.5, "type": "quantitative"}}},
    {"mark": {"type": "text", "align": "left", "baseline": "middle", "font": "Noto Sans CJK SC", "fontSize": 9.8, "color": "#000000"},
     "encoding": {"x": {"datum": 3, "type": "quantitative"}, "y": {"datum": 20.5, "type": "quantitative"}, "text": {"value": "资料来源：文华财经，长安期货"}}},
    {"mark": {"type": "text", "align": "left", "baseline": "middle", "font": "Noto Sans CJK SC", "fontSize": 9.8, "color": "#000000"},
     "encoding": {"x": {"datum": 282, "type": "quantitative"}, "y": {"datum": 20.5, "type": "quantitative"}, "text": {"value": "资料来源：隆众资讯，长安期货"}}},
    {"mark": {"type": "text", "align": "left", "baseline": "middle", "font": "Noto Sans CJK SC", "fontSize": 10, "fontWeight": "bold", "color": "#c00000"},
     "encoding": {"x": {"datum": 3, "type": "quantitative"}, "y": {"datum": 35.5, "type": "quantitative"}, "text": {"value": "图 3：华东地区基差"}}},
    {"mark": {"type": "text", "align": "right", "baseline": "middle", "font": "Noto Sans CJK SC", "fontSize": 10, "fontWeight": "bold", "color": "#c00000"},
     "encoding": {"x": {"datum": 258, "type": "quantitative"}, "y": {"datum": 35.5, "type": "quantitative"}, "text": {"value": "单位：元/吨"}}},
    {"mark": {"type": "text", "align": "left", "baseline": "middle", "font": "Noto Sans CJK SC", "fontSize": 10, "fontWeight": "bold", "color": "#c00000"},
     "encoding": {"x": {"datum": 281, "type": "quantitative"}, "y": {"datum": 35.5, "type": "quantitative"}, "text": {"value": "图 4：华东-山东价差"}}},
    {"mark": {"type": "text", "align": "right", "baseline": "middle", "font": "Noto Sans CJK SC", "fontSize": 10, "fontWeight": "bold", "color": "#c00000"},
     "encoding": {"x": {"datum": 527, "type": "quantitative"}, "y": {"datum": 35.5, "type": "quantitative"}, "text": {"value": "单位：元/吨"}}}
  ]
},
{
  "spacing": 29,
  "resolve": {"scale": {"color": "independent", "stroke": "independent"}, "legend": {"color": "independent", "stroke": "independent"}},
  "hconcat": [
    {
      "spacing": 0,
      "hconcat": [
        {
          "width": 4, "height": 1,
          "data": {"values": [{}]},
          "mark": {"type": "rule", "color": "#ffffff", "strokeWidth": 0.5},
          "encoding": {"x": {"datum": 0, "type": "quantitative", "scale": {"domain": [0, 4], "nice": false, "zero": false}, "axis": null},
                       "x2": {"datum": 4},
                       "y": {"datum": 0, "type": "quantitative", "scale": {"domain": [0, 1]}, "axis": null}}
        },
        {
          "width": 226, "height": 105,
          "data": {"name": "p3"},
          "layer": [
            {"mark": {"type": "area", "interpolate": "linear", "fill": "#a5a5a5", "strokeWidth": 0.3},
             "encoding": {
               "x": {"field": "d", "type": "temporal", "title": null,
                     "scale": {"domain": [{"year": 2022, "month": 1, "date": 11}, {"year": 2025, "month": 2, "date": 1}]},
                     "axis": {"values": [
                       {"year": 2022, "month": 1, "date": 11}, {"year": 2022, "month": 3, "date": 11}, {"year": 2022, "month": 5, "date": 11},
                       {"year": 2022, "month": 7, "date": 11}, {"year": 2022, "month": 9, "date": 11}, {"year": 2022, "month": 11, "date": 11},
                       {"year": 2023, "month": 1, "date": 11}, {"year": 2023, "month": 3, "date": 11}, {"year": 2023, "month": 5, "date": 11},
                       {"year": 2023, "month": 7, "date": 11}, {"year": 2023, "month": 9, "date": 11}, {"year": 2023, "month": 11, "date": 11},
                       {"year": 2024, "month": 1, "date": 11}, {"year": 2024, "month": 3, "date": 11}, {"year": 2024, "month": 5, "date": 11},
                       {"year": 2024, "month": 7, "date": 11}, {"year": 2024, "month": 9, "date": 11}, {"year": 2024, "month": 11, "date": 11}],
                       "format": "%Y-%m-%d", "labelAngle": -45, "labelFontSize": 4, "labelPadding": 2, "grid": false}},
               "y": {"field": "basis", "type": "quantitative", "title": null,
                     "scale": {"domain": [-300, 400], "nice": false},
                     "axis": {"orient": "right", "values": [-300, -200, -100, 0, 100, 200, 300, 400], "format": "d", "labelOverlap": false, "grid": false, "ticks": true, "tickSize": 15, "tickOpacity": 0, "labelPadding": -13, "labelFontSize": 5}},
               "stroke": {"datum": "基差(右)", "type": "nominal"}
             }},
            {"transform": [{"fold": ["华东市场甲醇日度市场价", "期货结算价"], "as": ["s", "v"]}],
             "mark": {"type": "line"},
             "encoding": {
               "x": {"field": "d", "type": "temporal"},
               "y": {"field": "v", "type": "quantitative", "title": null,
                     "scale": {"domain": [1000, 3500], "nice": false, "zero": false},
                     "axis": {"orient": "left", "values": [1000, 1500, 2000, 2500, 3000, 3500], "format": "d", "labelOverlap": false, "grid": true, "ticks": true, "tickSize": 15, "tickOpacity": 0, "labelPadding": -11, "labelFontSize": 5}},
               "strokeWidth": {"condition": {"test": "datum.s === '期货结算价'", "value": 1.8}, "value": 1.2},
               "stroke": {"field": "s", "type": "nominal",
                          "scale": {"domain": ["基差(右)", "华东市场甲醇日度市场价", "期货结算价"], "range": ["#a5a5a5", "#4472c4", "#ed7d31"]},
                          "legend": {"orient": "bottom", "direction": "horizontal", "title": null, "symbolType": "stroke", "symbolSize": 180, "symbolStrokeWidth": 2.5, "labelFontSize": 6, "offset": 3, "labelOffset": 2, "columnPadding": 5}}
             }}
          ],
          "resolve": {"scale": {"y": "independent"}}
        }
      ]
    },
    {
      "width": 228, "height": 99,
      "data": {"name": "p4"},
      "transform": [{"fold": ["华东太仓-山东中部价差", "华东太仓-山东南部价差"], "as": ["s", "v"]}],
      "mark": {"type": "line"},
      "encoding": {
        "x": {"field": "d", "type": "temporal", "title": null,
              "scale": {"domain": [{"year": 2024, "month": 2, "date": 1}, {"year": 2025, "month": 2, "date": 8}]},
              "axis": {"values": [
                {"year": 2024, "month": 2, "date": 1}, {"year": 2024, "month": 3, "date": 1}, {"year": 2024, "month": 4, "date": 1},
                {"year": 2024, "month": 5, "date": 1}, {"year": 2024, "month": 6, "date": 1}, {"year": 2024, "month": 7, "date": 1},
                {"year": 2024, "month": 8, "date": 1}, {"year": 2024, "month": 9, "date": 1}, {"year": 2024, "month": 10, "date": 1},
                {"year": 2024, "month": 11, "date": 1}, {"year": 2024, "month": 12, "date": 1}, {"year": 2025, "month": 1, "date": 1},
                {"year": 2025, "month": 2, "date": 1}],
                "format": "%Y/%-m/%-d", "labelAngle": -45, "labelFontSize": 5, "labelPadding": 2, "grid": false}},
        "y": {"field": "v", "type": "quantitative", "title": null,
              "scale": {"domain": [-300, 414], "nice": false, "zero": false},
              "axis": {"values": [-300, -200, -100, 0, 100, 200, 300, 400], "format": "d", "grid": true, "ticks": true, "tickSize": 15, "tickOpacity": 0, "labelPadding": -10, "labelFontSize": 5}},
        "strokeWidth": {"condition": {"test": "datum.s === '华东太仓-山东南部价差'", "value": 1.8}, "value": 1.4},
        "color": {"field": "s", "type": "nominal",
                  "scale": {"domain": ["华东太仓-山东中部价差", "华东太仓-山东南部价差"], "range": ["#4a7ebb", "#c0504d"]},
                  "legend": {"orient": "bottom", "direction": "horizontal", "title": null, "symbolType": "stroke", "symbolSize": 220, "symbolStrokeWidth": 1.8, "labelFontSize": 6.3, "offset": 7, "labelOffset": 2, "columnPadding": 5}}
      }
    }
  ]
},
{
  "width": 547, "height": 33,
  "data": {"values": [{}]},
  "layer": [
    {"mark": {"type": "rule", "color": "#95b8e0", "strokeWidth": 2},
     "encoding": {"x": {"datum": 3, "type": "quantitative", "scale": {"domain": [3, 550], "nice": false, "zero": false}, "axis": null},
                  "x2": {"datum": 268},
                  "y": {"datum": 9, "type": "quantitative", "scale": {"domain": [0, 33], "nice": false, "zero": false, "reverse": true}, "axis": null}}},
    {"mark": {"type": "rule", "color": "#95b8e0", "strokeWidth": 2},
     "encoding": {"x": {"datum": 280, "type": "quantitative"}, "x2": {"datum": 542}, "y": {"datum": 9, "type": "quantitative"}}},
    {"mark": {"type": "text", "align": "left", "baseline": "middle", "font": "Noto Sans CJK SC", "fontSize": 9.8, "color": "#000000"},
     "encoding": {"x": {"datum": 3, "type": "quantitative"}, "y": {"datum": 24, "type": "quantitative"}, "text": {"value": "资料来源：隆众资讯，长安期货"}}},
    {"mark": {"type": "text", "align": "left", "baseline": "middle", "font": "Noto Sans CJK SC", "fontSize": 9.8, "color": "#000000"},
     "encoding": {"x": {"datum": 282, "type": "quantitative"}, "y": {"datum": 24, "type": "quantitative"}, "text": {"value": "资料来源：隆众资讯，长安期货"}}}
  ]
}
]
}
